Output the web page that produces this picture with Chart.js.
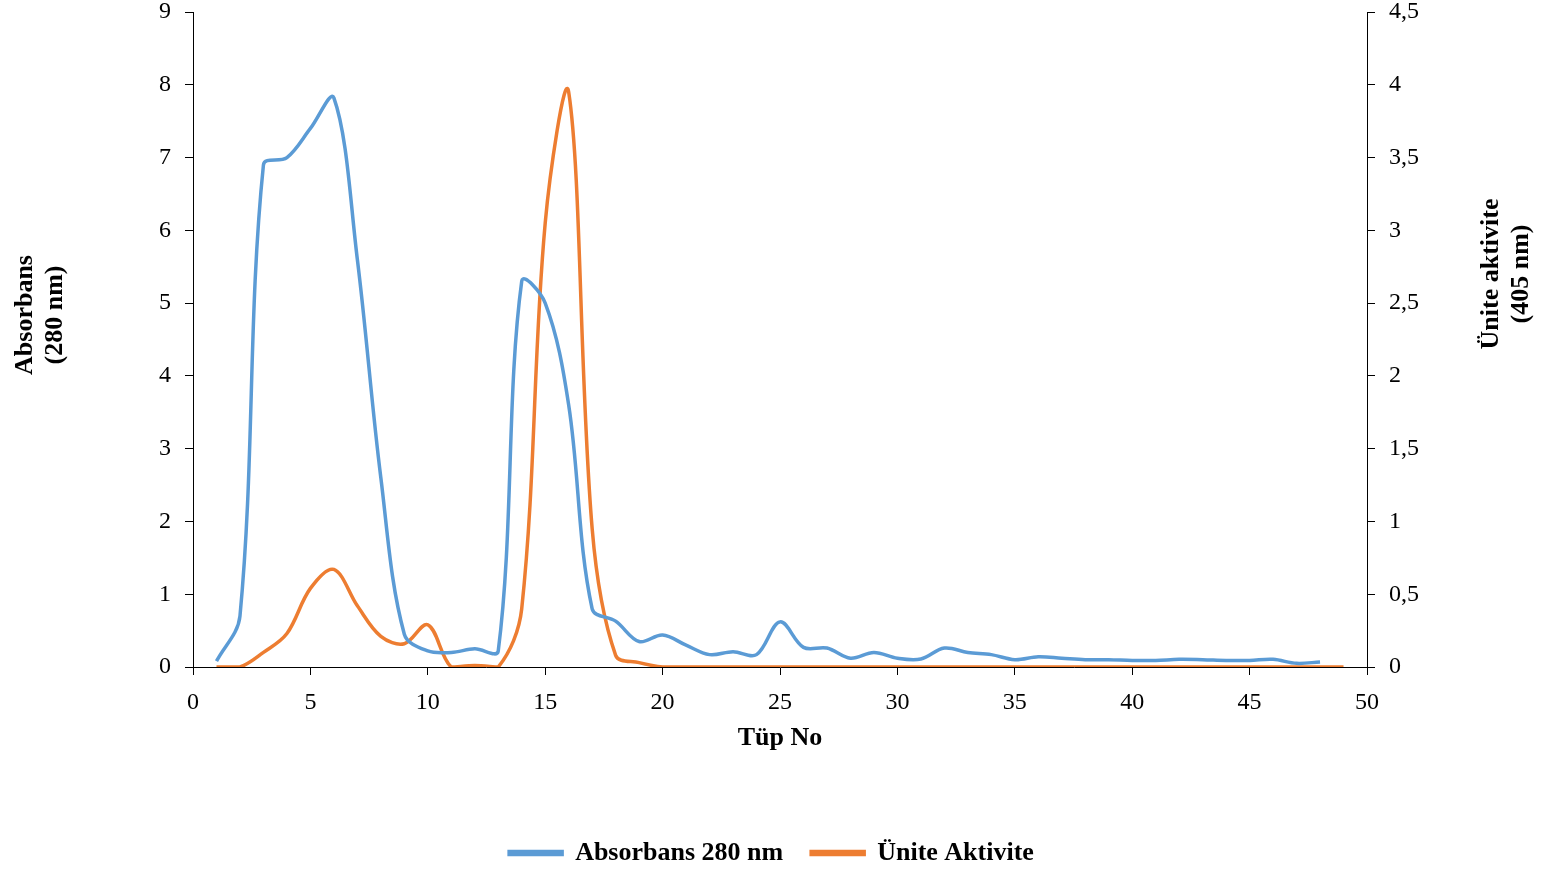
<!DOCTYPE html>
<html>
<head>
<meta charset="utf-8">
<script src="https://cdn.jsdelivr.net/npm/chart.js@4/dist/chart.umd.min.js"></script>
<style>
    html, body { margin: 0; padding: 0; background: #fff; }
    #wrap { width: 1543px; height: 870px; }
</style>
</head>
<body>
<div id="wrap"><canvas id="tube_chart"></canvas></div>
<script>
const absorbans_tubes = [1, 2, 3, 4, 5, 6, 7, 8, 9, 10, 11, 12, 13, 14, 15, 16, 17, 18, 19, 20,
    21, 22, 23, 24, 25, 26, 27, 28, 29, 30, 31, 32, 33, 34, 35, 36, 37, 38, 39, 40,
    41, 42, 43, 44, 45, 46, 47, 48]
const absorbans_values = [0.08, 0.7, 6.9, 7.0, 7.4, 7.82, 5.6, 2.6, 0.45, 0.22, 0.2, 0.25, 0.22, 5.3, 5.0, 3.6, 0.8, 0.63, 0.35, 0.44,
    0.3, 0.17, 0.21, 0.17, 0.62, 0.27, 0.26, 0.12, 0.2, 0.12, 0.11, 0.26, 0.2, 0.17, 0.1, 0.14, 0.12, 0.1, 0.1, 0.09,
    0.09, 0.105, 0.1, 0.09, 0.09, 0.105, 0.05, 0.07]

const aktivite_tubes = [1, 2, 3, 4, 5, 6, 7, 8, 9, 10, 11, 12, 13, 14, 15, 16, 17, 18, 19, 20,
    21, 22, 23, 24, 25, 26, 27, 28, 29, 30, 31, 32, 33, 34, 35, 36, 37, 38, 39, 40,
    41, 42, 43, 44, 45, 46, 47, 48, 49]
const aktivite_values = [0, 0, 0.1, 0.23, 0.54, 0.67, 0.42, 0.21, 0.16, 0.29, 0, 0.01, 0, 0.4, 3.05, 3.95, 0.95, 0.08, 0.03, 0,
    0, 0, 0, 0, 0, 0, 0, 0, 0, 0, 0, 0, 0, 0, 0, 0, 0, 0, 0, 0,
    0, 0, 0, 0, 0, 0, 0, 0, 0]

const x_ticks = ['0', '5', '10', '15', '20', '25', '30', '35', '40', '45', '50']
const left_ticks = ['0', '1', '2', '3', '4', '5', '6', '7', '8', '9']
const right_ticks = ['0', '0,5', '1', '1,5', '2', '2,5', '3', '3,5', '4', '4,5']

const serif = "'Liberation Serif', 'Times New Roman', serif"
const pad_bottom = -6

const tube_chart = document.querySelector('#tube_chart')

const toPoints = (xs, ys) => xs.map((x, i) => ({ x: x, y: ys[i] }))

const data_tubes = {
    datasets: [{
        label: 'Absorbans 280 nm',
        data: toPoints(absorbans_tubes, absorbans_values),
        borderColor: '#5B9BD5',
        backgroundColor: '#5B9BD5',
        borderWidth: 3.5,
        pointRadius: 0,
        tension: 0.35,
        yAxisID: 'y'
    }, {
        label: 'Ünite Aktivite',
        data: toPoints(aktivite_tubes, aktivite_values),
        borderColor: '#ED7D31',
        backgroundColor: '#ED7D31',
        borderWidth: 3.5,
        pointRadius: 0,
        tension: 0.35,
        yAxisID: 'y1'
    }]
}

// axis titles drawn by hand, the right one reads bottom-to-top like the left
const axis_titles = {
    id: 'axis_titles',
    afterDraw(chart) {
        const ctx = chart.ctx
        ctx.save()
        ctx.fillStyle = '#000'
        ctx.font = 'bold 26px ' + serif
        ctx.textAlign = 'center'
        ctx.textBaseline = 'middle'
        ctx.fillText('Tüp No', 780, 738)

        const vertical = (lines, x, y) => {
            ctx.save()
            ctx.translate(x, y)
            ctx.rotate(-Math.PI / 2)
            lines.forEach((t, i) => ctx.fillText(t, 0, i * 30))
            ctx.restore()
        }
        vertical(['Absorbans', '(280 nm)'], 25, 315)
        vertical(['Ünite aktivite', '(405 nm)'], 1491, 274)
        ctx.restore()
    }
}

const tick_font = { family: serif, size: 24 }
const axis_grid = {
    display: true,
    drawOnChartArea: false,
    drawTicks: true,
    tickLength: 8,
    tickColor: '#000'
}

// fixed widths for the y axes, and no extra room asked for the end labels
const fitY = width => s => {
    s.width = width
    s.paddingTop = 0
    s.paddingBottom = 0
}

const options_tubes = {
    responsive: false,
    animation: false,
    layout: {
        padding: { top: 12, left: 0, right: 0, bottom: pad_bottom }
    },
    plugins: {
        legend: {
            position: 'bottom',
            labels: {
                font: { family: serif, size: 26, weight: 'bold' },
                color: '#000',
                boxWidth: 53,
                boxHeight: 3,
                padding: 28
            }
        },
        tooltip: { enabled: false }
    },
    scales: {
        x: {
            type: 'linear',
            min: 0,
            max: 50,
            grid: axis_grid,
            border: { color: '#000', width: 1 },
            ticks: {
                stepSize: 5,
                font: tick_font,
                color: '#000',
                padding: 13,
                maxRotation: 0,
                callback: (v, i) => x_ticks[i]
            },
            afterFit: s => { s.height = 870 - pad_bottom - 667 - s.chart.legend.height }
        },
        y: {
            position: 'left',
            min: 0,
            max: 9,
            grid: axis_grid,
            border: { color: '#000', width: 1 },
            ticks: {
                stepSize: 1,
                font: tick_font,
                color: '#000',
                padding: 14,
                callback: (v, i) => left_ticks[i]
            },
            afterFit: fitY(193)
        },
        y1: {
            position: 'right',
            min: 0,
            max: 4.5,
            grid: axis_grid,
            border: { color: '#000', width: 1 },
            ticks: {
                stepSize: 0.5,
                font: tick_font,
                color: '#000',
                padding: 14,
                callback: (v, i) => right_ticks[i]
            },
            afterFit: fitY(1543 - 1367)
        }
    }
}

tube_chart.width = 1543
tube_chart.height = 870

new Chart(tube_chart, {
    type: 'line',
    data: data_tubes,
    options: options_tubes,
    plugins: [axis_titles]
})
</script>
</body>
</html>
